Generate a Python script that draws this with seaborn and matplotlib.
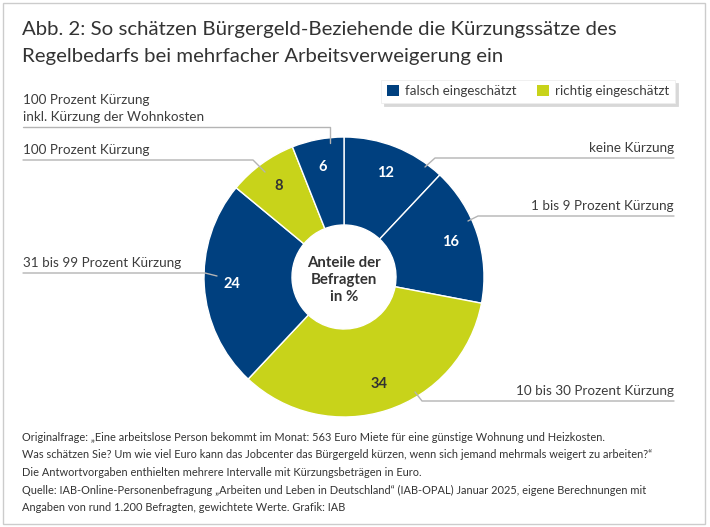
import seaborn as sns
import numpy as np
from matplotlib import pyplot as plt
from matplotlib.patches import Rectangle, Patch
from matplotlib.lines import Line2D

# data
categories = ["keine Kürzung", "1 bis 9 Prozent Kürzung", "10 bis 30 Prozent Kürzung",
              "31 bis 99 Prozent Kürzung", "100 Prozent Kürzung",
              "100 Prozent Kürzung\ninkl. Kürzung der Wohnkosten"]
shares = [12, 16, 34, 24, 8, 6]
assessment = ["falsch", "falsch", "richtig", "falsch", "richtig", "falsch"]
legend_labels = {"falsch": "falsch eingeschätzt", "richtig": "richtig eingeschätzt"}

title_lines = ["Abb. 2: So schätzen Bürgergeld-Beziehende die Kürzungssätze des",
               "Regelbedarfs bei mehrfacher Arbeitsverweigerung ein"]
center_label = "Anteile der\nBefragten\nin %"
note = ("Originalfrage: „Eine arbeitslose Person bekommt im Monat: 563 Euro Miete für eine günstige Wohnung und Heizkosten.\n"
        "Was schätzen Sie? Um wie viel Euro kann das Jobcenter das Bürgergeld kürzen, wenn sich jemand mehrmals weigert zu arbeiten?“\n"
        "Die Antwortvorgaben enthielten mehrere Intervalle mit Kürzungsbeträgen in Euro.")
source = ("Quelle: IAB-Online-Personenbefragung „Arbeiten und Leben in Deutschland“ (IAB-OPAL) Januar 2025, eigene Berechnungen mit\n"
          "Angaben von rund 1.200 Befragten, gewichtete Werte. Grafik: IAB")

sns.set_theme(style="white")
plt.rcParams['font.family'] = ['Lato', 'DejaVu Sans']
palette = dict(zip(["falsch", "richtig"], sns.color_palette(["#00407f", "#c8d31a"])))
text_col = "#3c3c3c"

W, H = 710, 527
fig = plt.figure(figsize=(W / 100, H / 100), dpi=100)
ax = fig.add_axes([0, 0, 1, 1])

# donut, pixel coords (y from top converted)
cx, cy, R, r_in = 344, H - 277, 140, 52
colors = [palette[a] for a in assessment]
wedges, _ = ax.pie(shares, colors=colors, startangle=90, counterclock=False,
                   center=(cx, cy), radius=R,
                   wedgeprops=dict(width=R - r_in, edgecolor="white", linewidth=1))
ax.set_xlim(0, W)
ax.set_ylim(0, H)
ax.set_aspect("equal")
ax.axis("off")

# values inside the wedges
for w, v, a in zip(wedges, shares, assessment):
    ang = np.deg2rad((w.theta1 + w.theta2) / 2)
    rr = 0.8 * R
    ax.text(cx + rr * np.cos(ang), cy + rr * np.sin(ang), str(v),
            ha="center", va="center", fontsize=10.5, fontweight="bold",
            color="white" if a == "falsch" else "#333333")

ax.text(cx, cy - 3, center_label, ha="center", va="center", fontsize=10.8,
        fontweight="bold", color="#333333", linespacing=1.25)

# leader lines (pixel coords from top) and labels
leaders = [
    [(425, 167), (435, 158), (674, 158)],
    [(468, 221), (478, 216), (674, 216)],
    [(415, 392), (422, 401), (674, 401)],
    [(217, 276), (205, 273), (23, 273)],
    [(265, 172), (253, 160), (23, 160)],
    [(330, 143), (330, 127), (23, 127)],
]
for cat, pts in zip(categories, leaders):
    xs = [p[0] for p in pts]
    ys = [H - p[1] for p in pts]
    ax.add_line(Line2D(xs, ys, color="#b4b4b4", lw=1))
    right = pts[-1][0] > cx
    ax.text(pts[-1][0], ys[-1] + 4, cat, ha="right" if right else "left",
            va="bottom", fontsize=9.7, color=text_col, linespacing=1.55)

# title and notes
for line, base in zip(title_lines, [35, 62]):
    fig.text(22 / W, 1 - base / H, line, ha="left", va="baseline", fontsize=14.7,
             color="#333333")
fig.text(22 / W, 1 - 432 / H, note, ha="left", va="top", fontsize=7.9,
         color="#333333", linespacing=1.7)
fig.text(22 / W, 1 - 485 / H, source, ha="left", va="top", fontsize=7.9,
         color="#333333", linespacing=1.7)

# legend
handles = [Patch(facecolor=palette[k], edgecolor="none", label=lab) for k, lab in legend_labels.items()]
leg = ax.legend(handles=handles, ncol=2, loc="upper right",
                bbox_to_anchor=(675 / W, 1 - 80 / H), bbox_transform=fig.transFigure,
                borderaxespad=0, frameon=True, fancybox=False,
                shadow={"color": "#d8d8d8", "alpha": 1},
                fontsize=9.6, handlelength=0.9, handleheight=0.9, handletextpad=0.5,
                columnspacing=1.5, borderpad=0.4, labelcolor=text_col)
leg.get_frame().set_edgecolor("#eeeeee")
leg.get_frame().set_linewidth(0.6)

# frame around chart
fig.patches.append(Rectangle((3 / W, 3 / H), 702 / W, 521 / H, transform=fig.transFigure,
                             fill=False, edgecolor="#cccccc", lw=1))

fig.savefig("out.png", dpi=100)
